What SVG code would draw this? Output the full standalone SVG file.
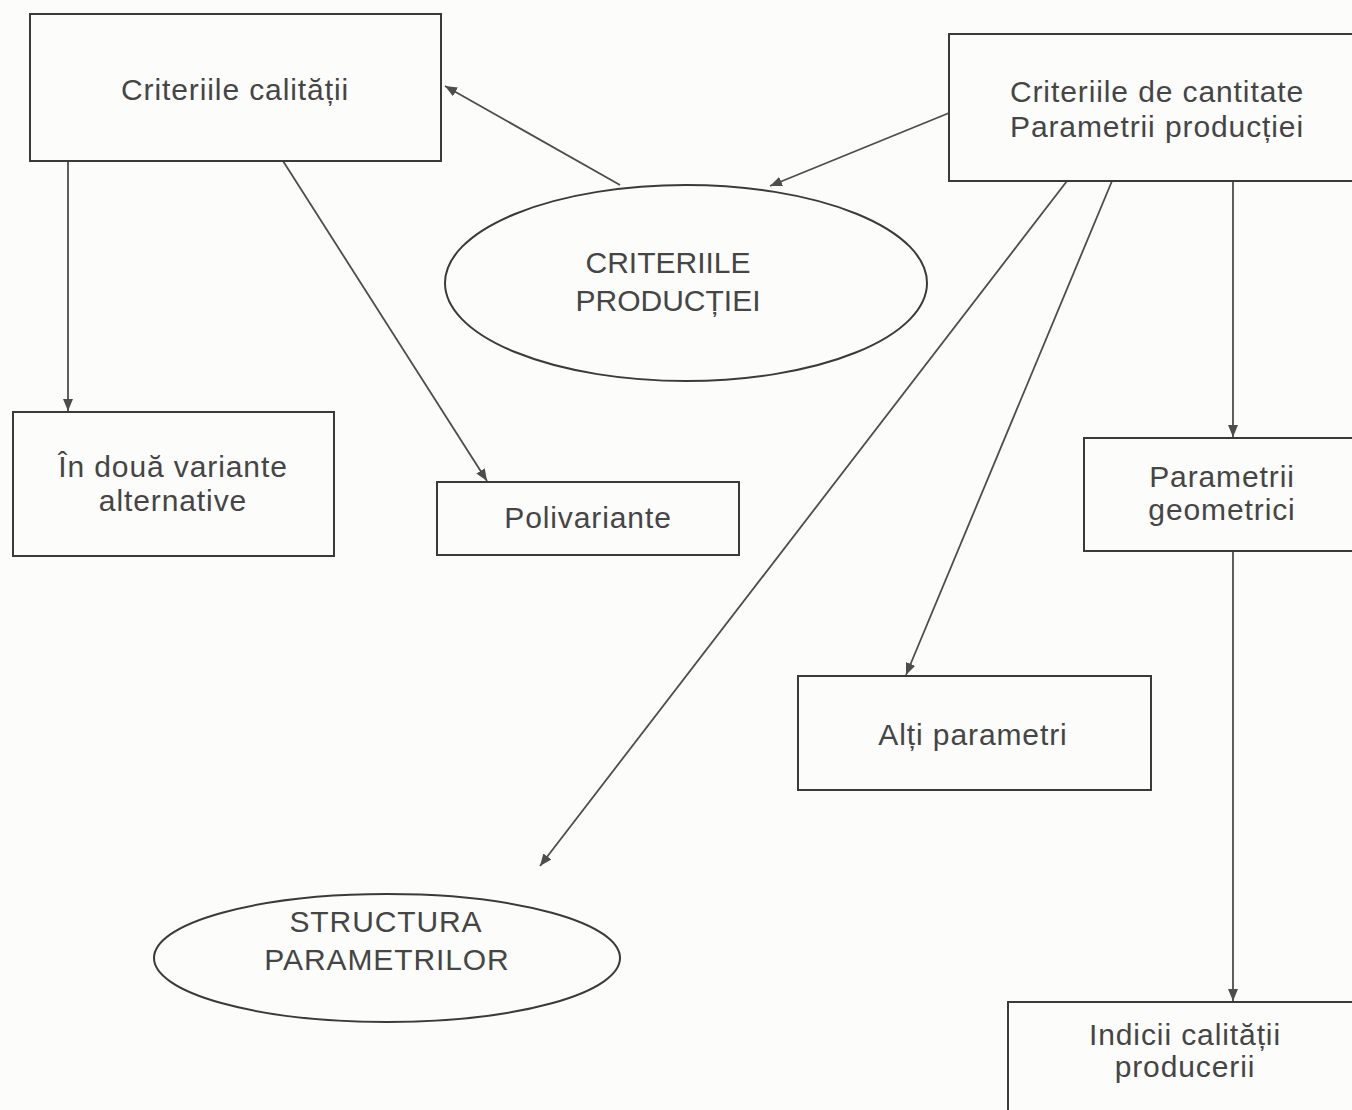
<svg xmlns="http://www.w3.org/2000/svg" width="1352" height="1110" viewBox="0 0 1352 1110">
<style>
.box{fill:none;stroke:#3a3a3a;stroke-width:2}
.ell{fill:none;stroke:#3a3a3a;stroke-width:2}
.t{font-family:"Liberation Sans",Arial,sans-serif;font-size:30px;fill:#454545;text-anchor:middle;letter-spacing:0.9px}
.t0{letter-spacing:0px}
.c{stroke:#4d4d4d;stroke-width:1.8;fill:none;marker-end:url(#ah)}
</style>
<defs>
<marker id="ah" viewBox="0 0 12 10" refX="12" refY="5" markerWidth="12" markerHeight="10" markerUnits="userSpaceOnUse" orient="auto">
<path d="M0,0 L12,5 L0,10 Z" fill="#4d4d4d"/>
</marker>
</defs>
<rect width="1352" height="1110" fill="#fcfcfb"/>
<g id="connectors">
<line class="c" x1="68" y1="161" x2="68" y2="411"/>
<line class="c" x1="283" y1="161" x2="487" y2="481"/>
<line class="c" x1="620" y1="185" x2="445" y2="86"/>
<line class="c" x1="949" y1="113" x2="770" y2="186"/>
<line class="c" x1="1067" y1="181" x2="540" y2="866"/>
<line class="c" x1="1112" y1="181" x2="906" y2="675"/>
<line class="c" x1="1233" y1="181" x2="1233" y2="437"/>
<line class="c" x1="1233" y1="551" x2="1233" y2="1001"/>
</g>
<g id="criteriile-calitatii">
<rect class="box" x="30" y="14" width="411" height="147"/>
<text class="t" x="235" y="100">Criteriile calității</text>
</g>
<g id="criteriile-cantitate">
<rect class="box" x="949" y="34" width="420" height="147"/>
<text class="t" x="1157" y="102">Criteriile de cantitate</text>
<text class="t" x="1157" y="137">Parametrii producției</text>
</g>
<g id="criteriile-productiei">
<ellipse class="ell" cx="686" cy="283" rx="241" ry="98"/>
<text class="t t0" x="668" y="273">CRITERIILE</text>
<text class="t t0" x="668" y="311">PRODUCȚIEI</text>
</g>
<g id="doua-variante">
<rect class="box" x="13" y="412" width="321" height="144"/>
<text class="t" x="173" y="477">În două variante</text>
<text class="t" x="173" y="511">alternative</text>
</g>
<g id="polivariante">
<rect class="box" x="437" y="482" width="302" height="73"/>
<text class="t" x="588" y="528">Polivariante</text>
</g>
<g id="parametrii-geometrici">
<rect class="box" x="1084" y="438" width="290" height="113"/>
<text class="t" x="1222" y="487">Parametrii</text>
<text class="t" x="1222" y="520">geometrici</text>
</g>
<g id="alti-parametri">
<rect class="box" x="798" y="676" width="353" height="114"/>
<text class="t" x="973" y="745">Alți parametri</text>
</g>
<g id="structura-parametrilor">
<ellipse class="ell" cx="387" cy="958" rx="233" ry="64"/>
<text class="t" x="386" y="932">STRUCTURA</text>
<text class="t" x="387" y="970">PARAMETRILOR</text>
</g>
<g id="indicii-calitatii">
<rect class="box" x="1008" y="1002" width="370" height="130"/>
<text class="t" x="1185" y="1045">Indicii calității</text>
<text class="t" x="1185" y="1077">producerii</text>
</g>
</svg>
